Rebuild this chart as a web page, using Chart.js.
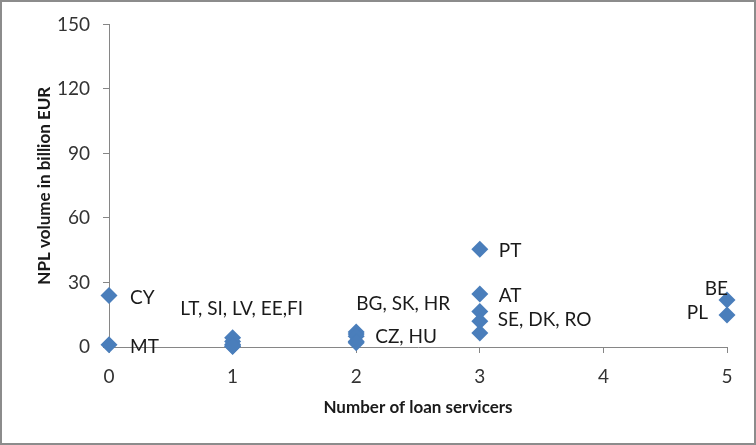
<!DOCTYPE html>
<html>
<head>
<meta charset="utf-8">
<script src="https://cdn.jsdelivr.net/npm/chart.js@4/dist/chart.umd.min.js"></script>
<style>
  html, body { margin: 0; padding: 0; background: #fff; }
  #wrap { width: 756px; height: 445px; }
</style>
</head>
<body>
<div id="wrap"><canvas id="chart" width="756" height="445"></canvas></div>
<script>
// number of loan servicers per country
const servicers = [0, 0, 1, 1, 1, 1, 1, 2, 2, 2, 2, 2, 3, 3, 3, 3, 3, 5, 5];
// NPL volume, billion EUR
const nplVolume = [24, 1, 4.3, 2.5, 1.2, 0.5, 0.2, 7, 6, 5, 2.5, 2, 45.5, 24.6, 16.5, 12, 6.5, 21.8, 14.9];
// country labels, attached to one point of each group
const groupLabels = {
  0: 'CY',
  1: 'MT',
  2: 'LT, SI, LV, EE,FI',
  7: 'BG, SK, HR',
  8: 'CZ, HU',
  12: 'PT',
  13: 'AT',
  14: 'SE, DK, RO',
  17: 'BE',
  18: 'PL',
};
const xTicks = [0, 1, 2, 3, 4, 5];
const yTicks = [0, 30, 60, 90, 120, 150];

const FONT = 'Lato, "Open Sans", sans-serif';

// label placement: dx, dy from the point, and text alignment
const labelPlace = {
  0: { dx: 21, dy: 2, align: 'left' },
  1: { dx: 21, dy: 2, align: 'left' },
  2: { dx: 9, dy: -29, align: 'center' },
  7: { dx: 47, dy: -28, align: 'center' },
  8: { dx: 19, dy: 3, align: 'left' },
  12: { dx: 19, dy: 2, align: 'left' },
  13: { dx: 19, dy: 2, align: 'left' },
  14: { dx: 18, dy: 8, align: 'left' },
  17: { dx: 1, dy: -11, align: 'right' },
  18: { dx: -19, dy: -2, align: 'right' },
};

const pointLabelPlugin = {
  id: 'pointLabels',
  afterDatasetsDraw(chart) {
    const { ctx } = chart;
    const meta = chart.getDatasetMeta(0);
    ctx.save();
    ctx.font = '19px ' + FONT;
    ctx.fillStyle = '#1a1a1a';
    ctx.textBaseline = 'middle';
    Object.keys(groupLabels).forEach(k => {
      const i = parseInt(k);
      const el = meta.data[i];
      const p = labelPlace[i];
      ctx.textAlign = p.align;
      ctx.fillText(groupLabels[i], el.x + p.dx, el.y + p.dy);
    });
    ctx.restore();
  }
};

const framePlugin = {
  id: 'frame',
  afterDraw(chart) {
    const { ctx, width, height } = chart;
    ctx.save();
    ctx.strokeStyle = '#8c8c8c';
    ctx.lineWidth = 2;
    ctx.strokeRect(1, 1, width - 2, height - 2);
    ctx.restore();
  }
};

new Chart(document.getElementById('chart'), {
  type: 'scatter',
  data: {
    datasets: [{
      label: 'NPL',
      data: servicers.map((x, i) => ({ x, y: nplVolume[i] })),
      pointStyle: 'rectRot',
      pointRadius: 8.5,
      pointHoverRadius: 8.5,
      backgroundColor: '#4A7EBB',
      borderColor: '#4A7EBB',
      borderWidth: 0,
      clip: false,
    }]
  },
  options: {
    responsive: false,
    animation: false,
    events: [],
    layout: {
      padding: { top: 24, right: 29, left: 0, bottom: 0 }
    },
    plugins: {
      legend: { display: false },
      tooltip: { enabled: false },
    },
    scales: {
      x: {
        type: 'linear',
        min: 0,
        max: 5,
        afterBuildTicks: axis => { axis.ticks = xTicks.map(v => ({ value: v })); },
        afterFit: axis => { axis.height = 98; },
        grid: { drawOnChartArea: false, tickLength: 6, color: '#868686' },
        border: { color: '#868686' },
        ticks: { color: '#333333', font: { family: FONT, size: 19 }, padding: 12 },
        title: {
          display: true,
          text: 'Number of loan servicers',
          color: '#1a1a1a',
          font: { family: FONT, size: 17, weight: 'bold' },
          padding: { top: 0, bottom: 27 },
        }
      },
      y: {
        type: 'linear',
        min: 0,
        max: 150,
        afterBuildTicks: axis => { axis.ticks = yTicks.map(v => ({ value: v })); },
        afterFit: axis => { axis.width = 109; },
        grid: { drawOnChartArea: false, tickLength: 6, color: '#868686' },
        border: { color: '#868686' },
        ticks: { color: '#333333', font: { family: FONT, size: 19 }, padding: 13 },
        title: {
          display: true,
          text: 'NPL volume in billion EUR',
          color: '#1a1a1a',
          font: { family: FONT, size: 17, weight: 'bold' },
          padding: { top: 34, bottom: 0 },
        }
      }
    }
  },
  plugins: [pointLabelPlugin, framePlugin]
});
</script>
</body>
</html>
